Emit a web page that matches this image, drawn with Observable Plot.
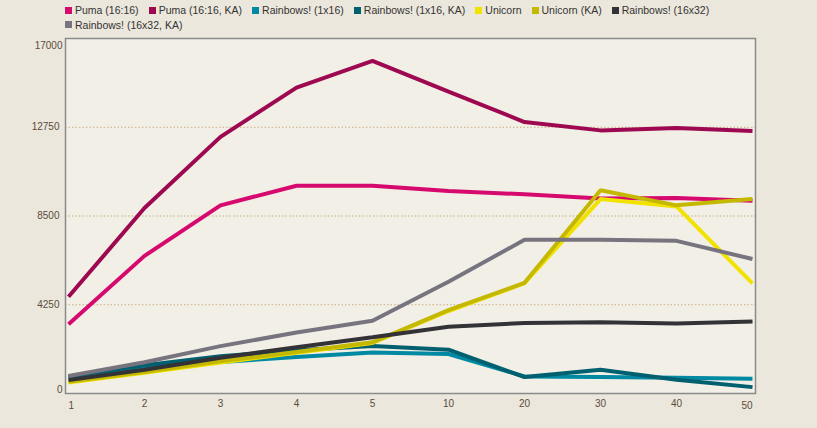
<!DOCTYPE html>
<html>
<head>
<meta charset="utf-8">
<script src="https://cdn.jsdelivr.net/npm/d3@7"></script>
<script src="https://cdn.jsdelivr.net/npm/@observablehq/plot@0.6"></script>
<style>
  html, body { margin: 0; padding: 0; background: #ebe7dc; width: 817px; height: 428px; overflow: hidden; }
  #legend { height: 32px; box-sizing: border-box; padding: 3px 0 0 65px; width: 770px;
    display: flex; flex-wrap: wrap; font: 10.5px "Liberation Sans", Arial, sans-serif; color: #333; }
  .item { display: flex; align-items: center; margin-right: 10px; height: 14px; }
  .sw { width: 7px; height: 7px; margin-right: 3px; }
  svg { display: block; }
</style>
</head>
<body>
<div id="legend"></div>
<div id="chart"></div>
<script>
const xLabels = ["1","2","3","4","5","10","20","30","40","50"];
const yTicks = [0, 4250, 8500, 12750, 17000];

const seriesNames = [
  "Puma (16:16)", "Puma (16:16, KA)", "Rainbows! (1x16)", "Rainbows! (1x16, KA)",
  "Unicorn", "Unicorn (KA)", "Rainbows! (16x32)", "Rainbows! (16x32, KA)"
];
const seriesColors = ["#d6096e", "#9e0850", "#0089a3", "#00606f", "#f2e200", "#c4b800", "#333236", "#78747f"];

const puma        = [3320, 6590, 9010, 9950, 9950, 9700, 9540, 9340, 9360, 9230];
const pumaKA      = [4630, 8880, 12290, 14650, 15930, 14460, 13000, 12600, 12710, 12570];
const rb1x16      = [755, 1235, 1505, 1745, 1960, 1890, 820, 790, 755, 705];
const rb1x16KA    = [820, 1350, 1780, 2070, 2280, 2100, 785, 1140, 660, 305];
const unicorn     = [520, 990, 1480, 1950, 2420, 3950, 5280, 9310, 8960, 5270];
const unicornKA   = [560, 1025, 1540, 1990, 2450, 3990, 5300, 9730, 9010, 9310];
const rb16x32     = [650, 1140, 1715, 2210, 2690, 3200, 3380, 3410, 3350, 3450];
const rb16x32KA   = [840, 1500, 2270, 2920, 3480, 5350, 7360, 7360, 7310, 6440];

const allSeries = [puma, pumaKA, rb1x16, rb1x16KA, unicorn, unicornKA, rb16x32, rb16x32KA];

const rows = [];
allSeries.forEach((vals, si) => {
  vals.forEach((v, i) => rows.push({series: seriesNames[si], x: xLabels[i], y: v}));
});

// legend
const legend = document.getElementById("legend");
seriesNames.forEach((n, i) => {
  const it = document.createElement("div");
  it.className = "item";
  it.innerHTML = `<span class="sw" style="background:${seriesColors[i]}"></span><span>${n}</span>`;
  legend.appendChild(it);
});

const font = "10px 'Liberation Sans', Arial, sans-serif";
const fmt = d => String(d);
const chart = Plot.plot({
  width: 817,
  height: 396,
  marginTop: 6,
  marginBottom: 35,
  marginLeft: 65,
  marginRight: 62,
  style: {background: "transparent", font, color: "#5b4b3b"},
  x: {type: "point", domain: xLabels, padding: 0, label: null},
  y: {domain: [0, 17000], label: null},
  color: {domain: seriesNames, range: seriesColors},
  marks: [
    Plot.frame({fill: "#f2efe7", stroke: "none"}),
    Plot.ruleY(yTicks.slice(1, 4), {stroke: "#c6ad7c", strokeDasharray: "1.5,2", strokeWidth: 1}),
    Plot.line(rows, {x: "x", y: "y", z: "series", stroke: "series", strokeWidth: 4, strokeLinejoin: "miter", strokeLinecap: "butt"}),
    Plot.frame({stroke: "#8a8a8a", strokeWidth: 1.5}),
    Plot.axisY({ticks: yTicks.slice(1, 4), tickFormat: fmt, tickSize: 0, tickPadding: 6, label: null, fill: "#5b4b3b"}),
    Plot.text([yTicks[0]], {x: () => xLabels[0], y: d => d, text: fmt, dx: -6, dy: -4, textAnchor: "end", fill: "#5b4b3b"}),
    Plot.text([yTicks[4]], {x: () => xLabels[0], y: d => d, text: fmt, dx: -6, dy: 7, textAnchor: "end", fill: "#5b4b3b"}),
    Plot.axisX({ticks: xLabels.slice(1, -1), tickSize: 0, tickPadding: 6, label: null, fill: "#5b4b3b"}),
    Plot.text([xLabels[0]], {x: d => d, y: () => 0, dy: 12, textAnchor: "start", fill: "#5b4b3b"}),
    Plot.text([xLabels[xLabels.length - 1]], {x: d => d, y: () => 0, dy: 12, textAnchor: "end", fill: "#5b4b3b"})
  ]
});
document.getElementById("chart").appendChild(chart);
</script>
</body>
</html>
